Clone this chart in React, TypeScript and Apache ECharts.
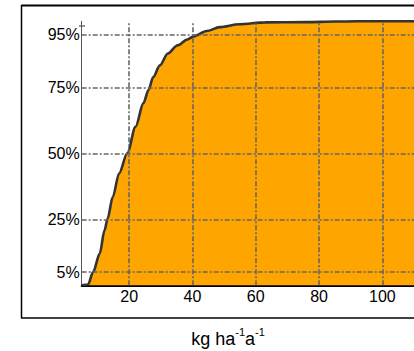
import React, { useEffect, useRef } from "react";
import * as echarts from "echarts";

const xValues = [5, 7, 8.6, 10.7, 12.2, 13.2, 14.8, 16.8, 19.4, 22, 24.5, 26.1, 27.6, 29.7, 32.2, 35.3, 38.4, 40.4, 44.5, 48.6, 54.8, 63, 76, 85, 92, 110];
const cumPercent = [0, 0.3, 5, 12, 20.8, 25.3, 33.4, 42.3, 50, 60, 69, 74, 78.9, 83.3, 87.8, 90.9, 93.1, 94.3, 96.3, 97.8, 98.9, 99.6, 99.7, 99.9, 100, 100];
const xTicks = [20, 40, 60, 80, 100];
const yTicks = [5, 25, 50, 75, 95];

export default function App() {
  const ref = useRef<HTMLDivElement>(null);
  useEffect(() => {
    if (!ref.current) return;
    const chart = echarts.init(ref.current, null, { renderer: "svg" });
    const font = "Liberation Sans";
    const gridStyle = { color: "#666", type: [5, 2, 2, 2], width: 1.6 };
    chart.setOption({
      animation: false,
      backgroundColor: "#ffffff",
      grid: { left: 81.7, top: 21.3, right: -10, bottom: 65.7 },
      xAxis: {
        type: "value",
        min: 5,
        max: 110,
        axisLine: { show: true, lineStyle: { color: "#000", width: 2 } },
        axisTick: { show: false },
        splitLine: { show: false },
        axisLabel: {
          customValues: xTicks,
          color: "#000",
          fontFamily: font,
          fontSize: 16,
          margin: 3,
        },
      },
      yAxis: {
        type: "value",
        min: 0,
        max: 100,
        axisLine: { show: true, lineStyle: { color: "#555", width: 1 } },
        axisTick: { show: false },
        splitLine: { show: false },
        axisLabel: {
          customValues: yTicks,
          formatter: "{value}%",
          color: "#000",
          fontFamily: font,
          fontSize: 16,
          margin: 2,
        },
      },
      series: [
        {
          type: "line",
          data: xValues.map((x, i) => [x, cumPercent[i]]),
          symbol: "none",
          smooth: 0.3,
          smoothMonotone: "x",
          lineStyle: { color: "#333", width: 2.6 },
          areaStyle: { color: "#FFA500", opacity: 1 },
          markLine: {
            silent: true,
            symbol: "none",
            label: { show: false },
            lineStyle: gridStyle,
            data: [
              ...xTicks.map((v) => ({ xAxis: v })),
              ...yTicks.map((v) => ({ yAxis: v })),
            ],
          },
        },
      ],
      graphic: [
        { type: "line", shape: { x1: 21.5, y1: 5.5, x2: 414, y2: 5.5 }, style: { stroke: "#000", lineWidth: 2 } },
        { type: "line", shape: { x1: 21.5, y1: 5, x2: 21.5, y2: 318 }, style: { stroke: "#000", lineWidth: 1.5 } },
        { type: "line", shape: { x1: 21, y1: 318, x2: 414, y2: 318 }, style: { stroke: "#000", lineWidth: 1.5 } },
        { type: "line", shape: { x1: 79, y1: 26, x2: 85, y2: 26 }, style: { stroke: "#333", lineWidth: 1 } },
        {
          type: "text",
          x: 228,
          y: 348,
          style: {
            text: "{a|kg ha}{s|-1}{a|a}{s|-1}",
            textAlign: "center",
            textVerticalAlign: "bottom",
            fill: "#000",
            rich: {
              a: { fontFamily: font, fontSize: 18, lineHeight: 22, verticalAlign: "bottom" },
              s: { fontFamily: font, fontSize: 11, lineHeight: 22, verticalAlign: "top" },
            },
          },
        },
      ],
    });
    return () => chart.dispose();
  }, []);
  return <div ref={ref} style={{ position: "fixed", left: 0, top: 0, width: 414, height: 351 }} />;
}
